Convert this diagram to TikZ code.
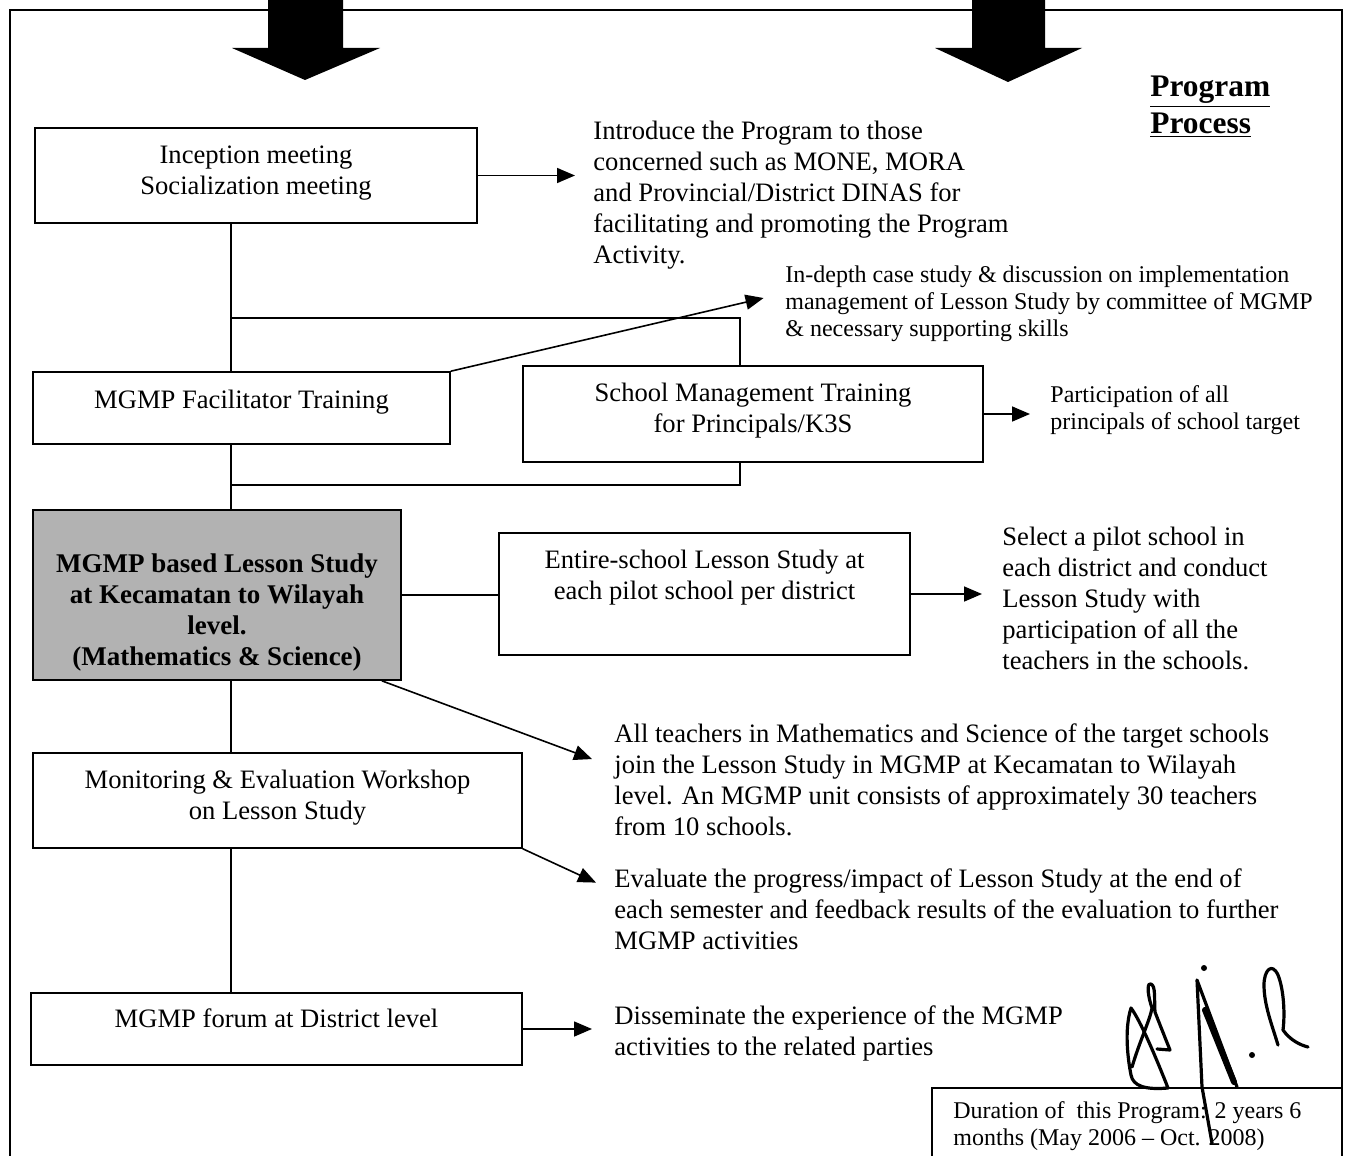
\documentclass[tikz,border=0pt]{standalone}
\usepackage{fontspec}
\setmainfont{Liberation Serif}
\usetikzlibrary{arrows.meta}

\begin{document}
\begin{tikzpicture}[x=0.5pt,y=-0.5pt]
\tikzstyle{every node}=[inner sep=0pt]
\tikzstyle{box}=[draw, line width=0.8pt, align=center, font=\fontsize{13.3}{15.5}\selectfont]
\tikzstyle{note}=[anchor=west, align=left, font=\fontsize{13.3}{15.5}\selectfont]
\tikzstyle{small}=[anchor=west, align=left, font=\fontsize{12}{13.5}\selectfont]
\tikzstyle{link}=[line width=0.8pt]
\tikzstyle{pointer}=[line width=0.8pt, -{Triangle[length=9pt,width=7.5pt]}]
\tikzstyle{sig}=[line width=1.6pt, line cap=round, line join=round]
\useasboundingbox (0,0) rectangle (1349,1156);
% frame and the two big arrows
\draw[line width=1pt] (10,1160) -- (10,10) -- (1342,10) -- (1342,1160);
\fill (268,-2) -- (343,-2) -- (343,48) -- (380,48) -- (305,80) -- (232,48) -- (268,48) -- cycle;
\fill (972,-2) -- (1045,-2) -- (1045,48) -- (1082,48) -- (1008,82) -- (935,48) -- (972,48) -- cycle;
\draw (1150,107) node (title) [anchor=west, align=left, font=\fontsize{15.7}{18.5}\selectfont\bfseries] {\underline{Program}\\\underline{Process}};
% boxes
\draw (256,175.5) node (inception) [box, minimum width=221pt, minimum height=47.5pt, text depth=5pt] {Inception meeting\\Socialization meeting};
\draw (241.5,408) node (facil) [box, minimum width=208.5pt, minimum height=36pt, text depth=9pt] {MGMP Facilitator Training};
\draw (753,414) node (school) [box, minimum width=230pt, minimum height=48pt, text depth=6pt] {School Management Training\\for Principals/K3S};
\draw (217,595) node (lsbox) [box, fill=black!30, minimum width=184pt, minimum height=85pt, font=\fontsize{13.5}{15.5}\selectfont\bfseries] {\rule{0pt}{27pt}MGMP based Lesson Study\\at Kecamatan to Wilayah\\level.\\(Mathematics \& Science)};
\draw (704.5,594) node (entire) [box, minimum width=205.5pt, minimum height=61pt, text depth=19pt] {Entire-school Lesson Study at\\each pilot school per district};
\draw (277.5,800.5) node (monitor) [box, minimum width=244.5pt, minimum height=47.5pt, text depth=6pt] {Monitoring \& Evaluation Workshop\\on Lesson Study};
\draw (276.5,1029) node (forum) [box, minimum width=245.5pt, minimum height=36pt, text depth=11pt] {MGMP forum at District level};
% texts
\draw (593,195) node (t1) [note] {Introduce the Program to those\\concerned such as MONE, MORA\\and Provincial/District DINAS for\\facilitating and promoting the Program\\Activity.};
\draw (785,304) node (t2) [small] {In-depth case study \& discussion on implementation\\management of Lesson Study by committee of MGMP\\\& necessary supporting skills};
\draw (1050,410.5) node (t3) [small] {Participation of all\\principals of school target};
\draw (1002,598) node (t4) [note] {Select a pilot school in\\each district and conduct\\Lesson Study with\\participation of all the\\teachers in the schools.};
\draw (614,779.5) node (t5) [note] {All teachers in Mathematics and Science of the target schools\\join the Lesson Study in MGMP at Kecamatan to Wilayah\\level. An MGMP unit consists of approximately 30 teachers\\from 10 schools.};
\draw (614,909.5) node (t6) [note] {Evaluate the progress/impact of Lesson Study at the end of\\each semester and feedback results of the evaluation to further\\MGMP activities};
\draw (614,1033) node (t7) [note] {Disseminate the experience of the MGMP\\activities to the related parties};
\draw (953,1126.5) node (t8) [small] {Duration of\ \ this Program: 2 years 6\\months (May 2006 -- Oct. 2008)};
\draw[link] (932,1160) -- (932,1088) -- (1342,1088);
% spine and branch
\coordinate (s1) at (231,318);
\coordinate (s2) at (231,485);
\coordinate (b1) at (740,318);
\coordinate (b2) at (740,485);
\draw[link] (inception.south -| s1) -- (facil.north -| s1);
\draw[link] (facil.south -| s1) -- (lsbox.north -| s1);
\draw[link] (lsbox.south -| s1) -- (monitor.north -| s1);
\draw[link] (monitor.south -| s1) -- (forum.north -| s1);
\draw[link] (s1) -- (b1) -- (b1 |- school.north);
\draw[link] (b2 |- school.south) -- (b2) -- (s2);
% arrows
\draw[pointer, shorten >=9pt] (inception.east) -- (inception.east -| t1.west);
\draw[pointer, shorten >=11pt] (facil.north east) -- ([yshift=5.5pt]t2.west);
\draw[pointer, shorten >=10pt] (school.east) -- (school.east -| t3.west);
\draw[link] (lsbox.east) -- (lsbox.east -| entire.west);
\draw[pointer, shorten >=10pt] (entire.east) -- (entire.east -| t4.west);
\draw[pointer] ([xshift=-10pt]lsbox.south east) -- ([xshift=-11pt,yshift=-18pt]t5.north west);
\draw[pointer] (monitor.south east) -- ([xshift=-9pt,yshift=-7pt]t6.north west);
\draw[pointer, shorten >=11pt] (forum.east) -- (forum.east -| t7.west);
% signature
\draw[sig] (1168,1088) .. controls (1155,1055) and (1140,1020) .. (1131,1008) .. controls (1124,1030) and (1128,1060) .. (1131,1075) .. controls (1133,1086) and (1145,1090) .. (1168,1088);
\draw[sig] (1132,1067) .. controls (1140,1040) and (1150,1020) .. (1152,1008) .. controls (1146,990) and (1148,982) .. (1151,984) .. controls (1156,986) and (1154,1000) .. (1155,1012) .. controls (1160,1025) and (1166,1040) .. (1170,1050) -- (1157,1049);
\draw[sig] (1212,1143) -- (1202,1087) -- (1197,980) -- (1237,1087);
\draw[line width=3pt, line cap=round] (1205,1010) -- (1234,1082);
\fill (1204,968) circle (3);
\fill (1252,1055) circle (3);
\draw[sig] (1278,1045) .. controls (1272,1025) and (1264,1005) .. (1264,985) .. controls (1264,970) and (1272,962) .. (1278,975) .. controls (1284,990) and (1285,1015) .. (1283,1030) .. controls (1290,1040) and (1300,1045) .. (1308,1047);
\end{tikzpicture}
\end{document}
